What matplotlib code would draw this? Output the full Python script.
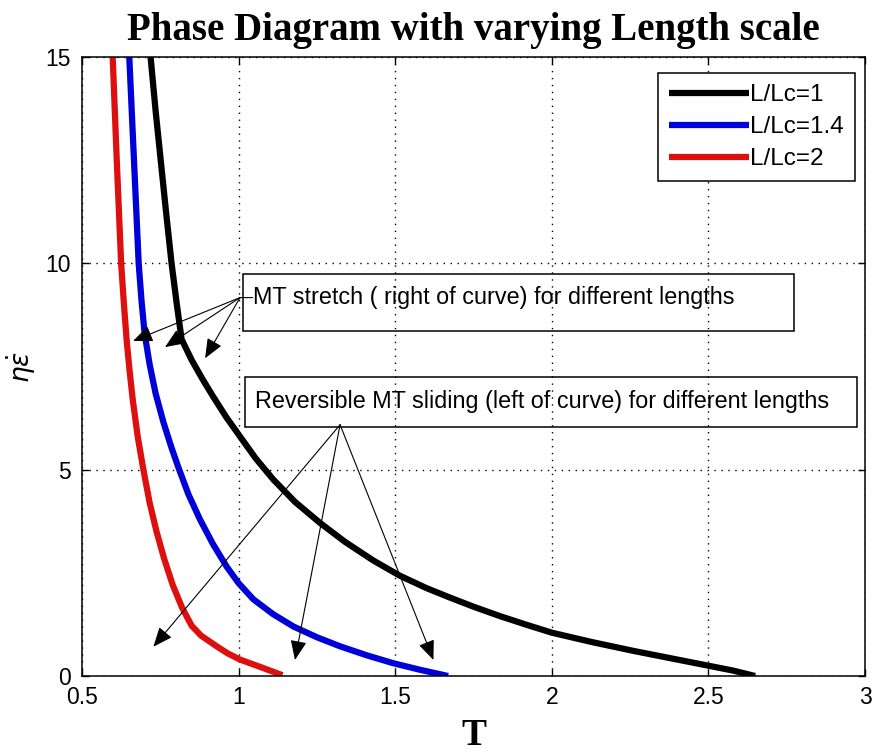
import matplotlib
matplotlib.use("Agg")
import matplotlib.pyplot as plt
from matplotlib import font_manager
from matplotlib.patches import Rectangle

# curve data (T, eta*epsdot)
t_l1 = [0.719, 0.735, 0.752, 0.769, 0.786, 0.802, 0.818, 0.850, 0.886, 0.918,
        0.960, 1.004, 1.055, 1.111, 1.180, 1.260, 1.340, 1.430, 1.515, 1.600,
        1.675, 1.750, 1.835, 1.920, 2.000, 2.130, 2.260, 2.380, 2.500, 2.580,
        2.649]
y_l1 = [15.0, 13.7, 12.45, 11.2, 10.0, 9.05, 8.16, 7.66, 7.18, 6.78,
        6.28, 5.81, 5.27, 4.76, 4.22, 3.71, 3.25, 2.80, 2.43, 2.13,
        1.90, 1.68, 1.45, 1.24, 1.05, 0.82, 0.61, 0.43, 0.25, 0.13,
        0.0]

t_l14 = [0.651, 0.666, 0.681, 0.690, 0.700, 0.716, 0.735, 0.760, 0.785, 0.808,
         0.840, 0.877, 0.918, 0.962, 1.000, 1.047, 1.110, 1.175, 1.250, 1.324,
         1.410, 1.494, 1.580, 1.669]
y_l14 = [15.0, 12.5, 10.0, 9.1, 8.3, 7.55, 6.85, 6.15, 5.55, 5.05,
         4.40, 3.79, 3.20, 2.65, 2.25, 1.86, 1.50, 1.20, 0.94, 0.72,
         0.50, 0.31, 0.15, 0.0]

t_l2 = [0.598, 0.611, 0.625, 0.634, 0.643, 0.652, 0.662, 0.678, 0.696, 0.716,
        0.738, 0.762, 0.790, 0.820, 0.850, 0.880, 0.930, 0.965, 1.004, 1.080,
        1.140]
y_l2 = [15.0, 12.5, 10.0, 9.0, 8.1, 7.4, 6.7, 5.8, 5.0, 4.2,
        3.5, 2.85, 2.2, 1.65, 1.22, 0.98, 0.72, 0.55, 0.40, 0.19,
        0.02]

labels = ['L/Lc=1', 'L/Lc=1.4', 'L/Lc=2']
colors = ['black', '#0000d8', '#dd1010']

# annotation arrows: start point and arrow tips (data coords)
stretch_from = (1.0045, 9.17)
stretch_to = [(0.663, 8.12), (0.765, 7.97), (0.893, 7.70)]
sliding_from = (1.324, 6.09)
sliding_to = [(0.728, 0.71), (1.18, 0.39), (1.622, 0.39)]

stretch_text = 'MT stretch ( right of curve) for different lengths'
sliding_text = 'Reversible MT sliding (left of curve) for different lengths'

names = {f.name for f in font_manager.fontManager.ttflist}
sans = 'Liberation Sans Narrow' if 'Liberation Sans Narrow' in names else 'Liberation Sans'
plt.rcParams['font.family'] = [sans, 'DejaVu Sans']

fig = plt.figure(figsize=(8.75, 7.55), dpi=100)
ax = fig.add_axes([0.0937, 0.1046, 0.8949, 0.8199])

for t, y, lab, c in zip([t_l1, t_l14, t_l2], [y_l1, y_l14, y_l2], labels, colors):
    ax.plot(t, y, color=c, lw=4.5, label=lab, solid_capstyle='butt',
            solid_joinstyle='round')

ax.set_xlim(0.5, 3)
ax.set_ylim(0, 15)
ax.set_xticks([0.5, 1, 1.5, 2, 2.5, 3])
ax.set_xticklabels(['0.5', '1', '1.5', '2', '2.5', '3'])
ax.set_yticks([0, 5, 10, 15])
ax.tick_params(direction='in', length=5, width=1, top=True, right=True,
               labelsize=16.5)
ax.tick_params(axis='x', pad=7)
ax.tick_params(axis='y', pad=8)
ax.grid(True, color='black', ls=(0, (1, 4)), lw=1.0)
for s in ax.spines.values():
    s.set_linewidth(1.1)

ax.set_title('Phase Diagram with varying Length scale', family='Liberation Serif',
             fontweight='bold', fontsize=28, pad=12)
ax.set_xlabel('T', family='Liberation Serif', fontweight='bold', fontsize=27, labelpad=7)
ax.set_ylabel(r'$\eta\dot{\epsilon}$', fontsize=19, labelpad=5)

leg = ax.legend(loc='upper right', bbox_to_anchor=(0.987, 0.974), borderaxespad=0,
                fancybox=False, edgecolor='black', framealpha=1, fontsize=17.5,
                handlelength=3.3, handletextpad=0.05, labelspacing=0.42,
                borderpad=0.45)
leg.get_frame().set_linewidth(1.1)
for h in leg.get_lines():
    h.set_linewidth(4.5)

# text boxes (no fill, gridlines show through)
ax.add_patch(Rectangle((0.2056, 0.557), 0.7034, 0.092, transform=ax.transAxes,
                       fill=False, ec='black', lw=1.1))
ax.add_patch(Rectangle((0.208, 0.402), 0.782, 0.081, transform=ax.transAxes,
                       fill=False, ec='black', lw=1.1))
ax.text(0.218, 0.611, stretch_text, transform=ax.transAxes, fontsize=16.8, va='center')
ax.text(0.221, 0.443, sliding_text, transform=ax.transAxes, fontsize=16.8, va='center')

arrow = dict(arrowstyle='-|>,head_length=0.6,head_width=0.25', color='black',
             lw=0.8, shrinkA=0, shrinkB=0, mutation_scale=20)
ax.annotate('', xy=(1.045, 9.17), xytext=stretch_from,
            arrowprops=dict(arrowstyle='-', color='black', lw=0.8, shrinkA=0, shrinkB=0))
for tip in stretch_to:
    ax.annotate('', xy=tip, xytext=stretch_from, arrowprops=arrow)
for tip in sliding_to:
    ax.annotate('', xy=tip, xytext=sliding_from, arrowprops=arrow)

fig.savefig('out.png', dpi=100)
